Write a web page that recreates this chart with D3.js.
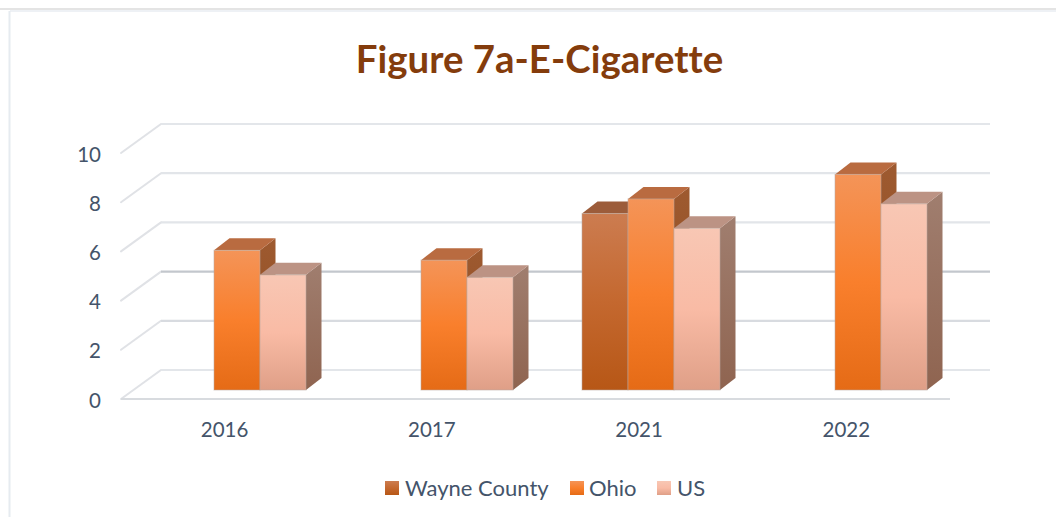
<!DOCTYPE html>
<html><head><meta charset="utf-8">
<script src="https://cdnjs.cloudflare.com/ajax/libs/d3/7.8.5/d3.min.js"></script>
<style>html,body{margin:0;padding:0;background:#fff;overflow:hidden}svg{display:block}text{font-variant-ligatures:none}</style>
</head><body><svg id="c" width="1056" height="517"></svg>
<script>
const titleText = "Figure 7a-E-Cigarette";
const categories = ["2016","2017","2021","2022"];
const seriesNames = ["Wayne County","Ohio","US"];
const wayne = [null,null,7.2,null];
const ohio = [5.7,5.3,7.8,8.8];
const us = [4.7,4.6,6.6,7.6];
const yTicks = [0,2,4,6,8,10];
const seriesValues = [wayne,ohio,us];
const gridColors = ["#E3E6EA","#D8DBE0","#C3C7CD","#E2E5E9","#E2E5E9","#E3E6EA"];
const frontStops = [["#CC7C50","#C4682F","#B75716"],["#F49458","#F97F2C","#E56B16"],["#F8C7B4","#F9BBA5","#DF9F87"]];
const topColors = ["#9C5C3A","#B96B40","#BC9384"];
const sideStops = [["#8E4F2A","#7E430F"],["#9E5A30","#8C4A1E"],["#A07E6F","#8F6450"]];

const svg = d3.select("#c"), font = "Lato, Carlito, sans-serif", ink = "#44546A";
const depthX = 40, depthY = 29, barDX = 15.5, barDY = 12, barBase = 390;
const yFront = d3.scaleLinear().domain([0,10]).range([399,153]);
const yBar = d3.scaleLinear().domain([0,10]).range([barBase,barBase-245]);
const xFront = d3.scaleBand().domain(categories).range([121,950]);
const xGroup = d3.scaleBand().domain(categories).range([133.5,961.5]).paddingInner(1/3).paddingOuter(1/6);
const xSeries = d3.scaleBand().domain(d3.range(seriesNames.length)).range([0,xGroup.bandwidth()]);

const defs = svg.append("defs");
function grad(id, stops){
  const g = defs.append("linearGradient").attr("id",id).attr("x1",0).attr("y1",0).attr("x2",0).attr("y2",1);
  stops.forEach((c,i)=>g.append("stop").attr("offset",i/(stops.length-1)).attr("stop-color",c));
}
frontStops.forEach((s,i)=>grad("front"+i,s));
sideStops.forEach((s,i)=>grad("side"+i,s));

// frame
svg.append("line").attr("x1",0).attr("x2",1056).attr("y1",9).attr("y2",9).attr("stroke","#E4E4E4").attr("stroke-width",2);
svg.append("line").attr("x1",10).attr("x2",1056).attr("y1",11).attr("y2",11).attr("stroke","#E9EDF2").attr("stroke-width",1.5);
svg.append("line").attr("x1",9.5).attr("x2",9.5).attr("y1",11).attr("y2",517).attr("stroke","#E6EBF0").attr("stroke-width",2);

// title
svg.append("text").attr("x",539.5).attr("y",72.5).attr("text-anchor","middle")
  .attr("font-family",font).attr("font-weight",700).attr("font-size",38.4).attr("fill","#843C0C").text(titleText);

// gridlines: side wall diagonal, then back wall
yTicks.forEach((t,i)=>{
  const yf = yFront(t);
  svg.append("line").attr("x1",121).attr("y1",yf).attr("x2",121+depthX).attr("y2",yf-depthY)
    .attr("stroke","#E0E2E6").attr("stroke-width",2).attr("stroke-linecap","round");
  svg.append("line").attr("x1",121+depthX).attr("y1",yf-depthY).attr("x2",990).attr("y2",yf-depthY)
    .attr("stroke",gridColors[i]).attr("stroke-width",2.2);
});
svg.append("line").attr("x1",121).attr("x2",950).attr("y1",yFront(0)).attr("y2",yFront(0)).attr("stroke","#D8DBDF").attr("stroke-width",2.2);

// bars
categories.forEach((c,ci)=>{
  seriesValues.forEach((vals,si)=>{
    const v = vals[ci];
    if(v==null) return;
    const x0 = xGroup(c)+xSeries(si), x1 = x0+xSeries.bandwidth(), yt = yBar(v);
    const g = svg.append("g");
    g.append("path").attr("fill",`url(#side${si})`)
      .attr("d",`M${x1},${yt}L${x1+barDX},${yt-barDY}L${x1+barDX},${barBase-barDY}L${x1},${barBase}Z`);
    g.append("path").attr("fill",topColors[si])
      .attr("d",`M${x0},${yt}L${x0+barDX},${yt-barDY}L${x1+barDX},${yt-barDY}L${x1},${yt}Z`);
    g.append("rect").attr("x",x0).attr("y",yt).attr("width",x1-x0).attr("height",barBase-yt)
      .attr("fill",`url(#front${si})`).attr("stroke","#B9A9A0").attr("stroke-opacity",0.55).attr("stroke-width",1);
  });
});

// axes
const axisL = svg.append("g").attr("transform","translate(101,1.5)")
  .call(d3.axisLeft(yFront).tickValues(yTicks).tickSize(0).tickPadding(0));
const axisB = svg.append("g").attr("transform","translate(0,430)")
  .call(d3.axisBottom(xFront).tickSize(0).tickPadding(0));
[axisL,axisB].forEach(a=>{
  a.select(".domain").remove();
  a.selectAll("text").attr("font-family",font).attr("font-size",20.5).attr("fill",ink);
});
axisB.selectAll("text").attr("dy","0.32em").attr("y",0);

// legend
const legendSw = [385,570,657], legendTx = [405,589,677];
seriesNames.forEach((n,i)=>{
  svg.append("rect").attr("x",legendSw[i]).attr("y",481).attr("width",14).attr("height",14).attr("fill",`url(#front${i})`);
  svg.append("text").attr("x",legendTx[i]).attr("y",495.5).attr("font-family",font).attr("font-size",22).attr("fill",ink).text(n);
});
</script></body></html>
